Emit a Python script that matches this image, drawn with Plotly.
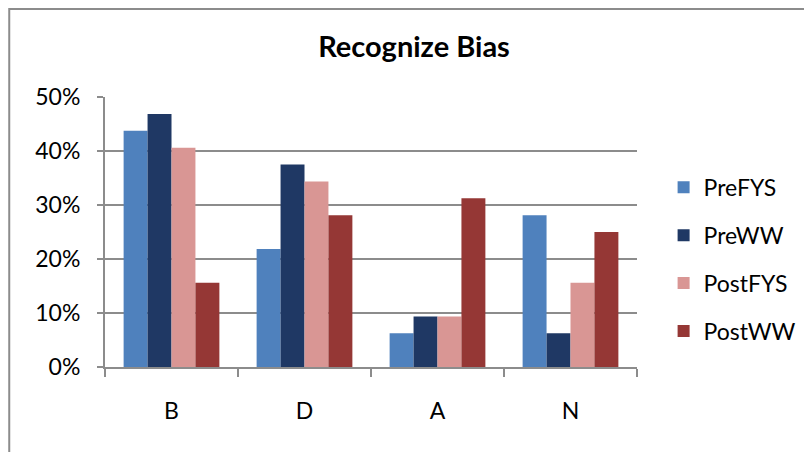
import plotly.graph_objects as go

# survey answers per category, share of respondents
categories = ['B', 'D', 'A', 'N']
pre_fys = [0.4375, 0.21875, 0.0625, 0.28125]
pre_ww = [0.46875, 0.375, 0.09375, 0.0625]
post_fys = [0.40625, 0.34375, 0.09375, 0.15625]
post_ww = [0.15625, 0.28125, 0.3125, 0.25]

series_names = ['PreFYS', 'PreWW', 'PostFYS', 'PostWW']
series_values = [pre_fys, pre_ww, post_fys, post_ww]
colors = ['#4F81BD', '#1F3864', '#D99694', '#953735']

FONT = 'Lato'
GRAY = '#8C8C8C'

fig = go.Figure()
for name, vals, col in zip(series_names, series_values, colors):
    fig.add_trace(go.Bar(
        x=categories, y=vals, name=name, legendgroup=name,
        marker=dict(color=col, line=dict(width=0)),
    ))

# outer chart frame (runs off the right and bottom of the picture)
fig.add_shape(type='rect', xref='paper', yref='paper',
              x0=-0.180, x1=1.4, y0=-0.5, y1=1.326,
              line=dict(color=GRAY, width=2), layer='below')

fig.update_layout(
    width=812, height=452,
    margin=dict(l=97, r=183, t=89, b=93),
    paper_bgcolor='white', plot_bgcolor='white',
    barmode='group', bargap=0.28, bargroupgap=0,
    font=dict(family=FONT, color='black'),
    title=dict(text='<b>Recognize Bias</b>', x=0.5, xref='container',
               y=1 - 39 / 452, yref='container', xanchor='center', yanchor='middle',
               font=dict(size=29, family=FONT, color='black')),
    legend=dict(x=1.05, y=0.745, xanchor='left', yanchor='top',
                traceorder='grouped', tracegroupgap=15,
                font=dict(size=23, family=FONT, color='black'),
                bgcolor='rgba(0,0,0,0)'),
    showlegend=True,
)

fig.update_yaxes(range=[0, 0.5], dtick=0.1, tickformat='.0%',
                 showgrid=True, gridcolor=GRAY, gridwidth=2,
                 showline=True, linecolor=GRAY, linewidth=2,
                 ticks='outside', ticklen=6, tickcolor=GRAY, tickwidth=2,
                 ticklabelstandoff=12, zeroline=False,
                 tickfont=dict(size=23, family=FONT, color='black'))
fig.update_xaxes(showline=True, linecolor=GRAY, linewidth=2,
                 ticks='outside', ticklen=8, tickcolor=GRAY, tickwidth=2,
                 tickson='boundaries', ticklabelstandoff=22,
                 tickfont=dict(size=23, family=FONT, color='black'))

fig.write_html('out.html')
